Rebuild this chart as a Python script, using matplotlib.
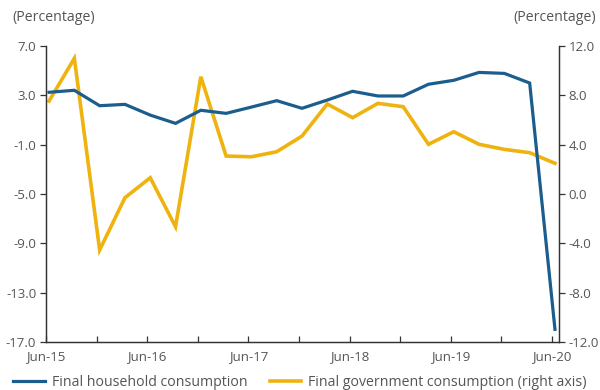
import matplotlib
matplotlib.use("Agg")
import matplotlib.pyplot as plt
from matplotlib.lines import Line2D
import numpy as np

plt.rcParams['font.family'] = ['Open Sans', 'DejaVu Sans']

# Quarterly year-on-year growth, Jun-15 .. Jun-20
quarters = ['Jun-15', 'Sep-15', 'Dec-15', 'Mar-16', 'Jun-16', 'Sep-16', 'Dec-16',
            'Mar-17', 'Jun-17', 'Sep-17', 'Dec-17', 'Mar-18', 'Jun-18', 'Sep-18',
            'Dec-18', 'Mar-19', 'Jun-19', 'Sep-19', 'Dec-19', 'Mar-20', 'Jun-20']
household = [3.25, 3.41, 2.16, 2.27, 1.40, 0.73, 1.79, 1.54, 2.05, 2.57, 1.95,
             2.62, 3.33, 2.95, 2.95, 3.90, 4.22, 4.86, 4.78, 4.00, -15.97]
government = [7.54, 11.0, -4.54, -0.30, 1.32, -2.65, 9.51, 3.08, 3.02, 3.43, 4.70,
              7.30, 6.19, 7.35, 7.08, 4.03, 5.05, 4.03, 3.62, 3.35, 2.49]
left_ticks = [7.0, 3.0, -1.0, -5.0, -9.0, -13.0, -17.0]
right_ticks = [12.0, 8.0, 4.0, 0.0, -4.0, -8.0, -12.0]
x_labels = ['Jun-15', 'Jun-16', 'Jun-17', 'Jun-18', 'Jun-19', 'Jun-20']

BLUE = '#1b5e8e'
GOLD = '#efb30f'
TEXT = '#555555'
AXIS = '#333333'

fig = plt.figure(figsize=(6.0, 3.9), dpi=100)
ax = fig.add_axes([0.0767, 0.123, 0.855, 0.759])
ax2 = ax.twinx()

x = np.arange(len(quarters))
ax.plot(x, household, color=BLUE, lw=2.3, solid_joinstyle='miter', zorder=3)
ax2.plot(x, government, color=GOLD, lw=2.6, solid_joinstyle='miter', zorder=2)
ax.set_zorder(ax2.get_zorder() + 1)
ax.patch.set_visible(False)

ax.set_ylim(-17, 7)
ax2.set_ylim(-12, 12)
ax.set_xlim(-0.12, 20.16)

ax.set_yticks(left_ticks)
ax.set_yticklabels([f'{v:.1f}' for v in left_ticks])
ax2.set_yticks(right_ticks)
ax2.set_yticklabels([f'{v:.1f}' for v in right_ticks])

tick_pos = np.arange(0, 21, 2) - 0.12
ax.set_xticks(tick_pos)
ax.set_xticklabels([x_labels[i // 2] if i % 2 == 0 else '' for i in range(len(tick_pos))])

for a in (ax, ax2):
    for s in a.spines.values():
        s.set_color(AXIS)
        s.set_linewidth(0.9)
    a.spines['top'].set_visible(False)
    a.tick_params(colors=AXIS, labelcolor=TEXT, labelsize=9.5, length=4, width=0.9)

ax.tick_params(axis='x', direction='in', pad=6)
ax.tick_params(axis='y', direction='out', pad=3)
ax2.tick_params(axis='y', direction='out', pad=3)

fig.text(0.02, 0.955, '(Percentage)', color=TEXT, fontsize=10.2, ha='left', va='center')
fig.text(0.993, 0.955, '(Percentage)', color=TEXT, fontsize=10.2, ha='right', va='center')

handles = [Line2D([0], [0], color=BLUE, lw=2.3),
           Line2D([0], [0], color=GOLD, lw=2.6)]
fig.legend(handles, ['Final household consumption', 'Final government consumption (right axis)'],
           loc='center', bbox_to_anchor=(0.5, 0.02), ncol=2, frameon=False,
           fontsize=10.2, labelcolor=TEXT, handlelength=2.2, handletextpad=0.5,
           columnspacing=1.6)

fig.savefig('out.png', dpi=100)
